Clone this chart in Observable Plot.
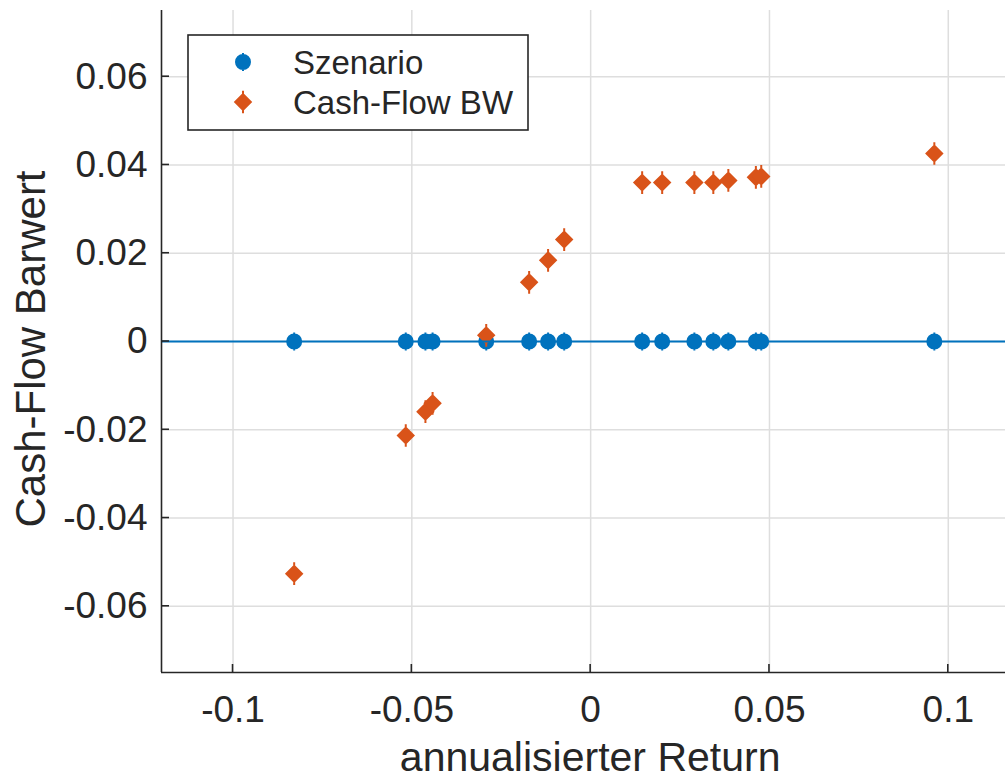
<!DOCTYPE html>
<html>
<head>
<meta charset="utf-8">
<script src="https://cdn.jsdelivr.net/npm/d3@7"></script>
<script src="https://cdn.jsdelivr.net/npm/@observablehq/plot@0.6"></script>
<style>
  html, body { margin: 0; padding: 0; background: white; }
  #chart { position: relative; width: 1005px; height: 781px; overflow: hidden; }
</style>
</head>
<body>
<div id="chart"></div>
<script>
// ---- data ----
const annualisierterReturn = [-0.0829, -0.0517, -0.0462, -0.0442, -0.0292, -0.0172, -0.0119, -0.0074,
  0.0144, 0.0200, 0.0290, 0.0343, 0.0385, 0.0462, 0.0477, 0.0961];
const cashFlowBW = [-0.0526, -0.0213, -0.0159, -0.0140, 0.0014, 0.0134, 0.0184, 0.0231,
  0.0360, 0.0360, 0.0360, 0.0360, 0.0365, 0.0372, 0.0374, 0.0426];
const szenario = [0, 0, 0, 0, 0, 0, 0, 0, 0, 0, 0, 0, 0, 0, 0, 0];
const seriesNames = ["Szenario", "Cash-Flow BW"];
const xTicks = [-0.1, -0.05, 0, 0.05, 0.1];
const xTickLabels = ["-0.1", "-0.05", "0", "0.05", "0.1"];
const yTicks = [-0.06, -0.04, -0.02, 0, 0.02, 0.04, 0.06];
const yTickLabels = ["-0.06", "-0.04", "-0.02", "0", "0.02", "0.04", "0.06"];
const xLabel = "annualisierter Return";
const yLabel = "Cash-Flow Barwert";

const blue = "#0072BD", orange = "#D95319", axisColor = "#262626", gridColor = "#dedede";
const font = "'Liberation Sans', Arial, Helvetica, sans-serif";

const xLab = new Map(xTicks.map((t, i) => [t, xTickLabels[i]]));
const yLab = new Map(yTicks.map((t, i) => [t, yTickLabels[i]]));

const pts = annualisierterReturn.map((x, i) => ({x, cf: cashFlowBW[i], sz: szenario[i]}));

// custom MATLAB-like marker symbols
const circleSym = {draw(ctx, size) {
  const r = Math.sqrt(size / Math.PI);
  ctx.moveTo(r, 0); ctx.arc(0, 0, r, 0, 2 * Math.PI); ctx.closePath();
  const w = 1, h = r * 1.12;
  ctx.moveTo(-w, -h); ctx.lineTo(w, -h); ctx.lineTo(w, h); ctx.lineTo(-w, h); ctx.closePath();
}};
const diamondSym = {draw(ctx, size) {
  const r = Math.sqrt(size / Math.PI);
  const a = r * 1.1;
  ctx.moveTo(0, -a); ctx.lineTo(a, 0); ctx.lineTo(0, a); ctx.lineTo(-a, 0); ctx.closePath();
  const w = 1, h = r * 1.35;
  ctx.moveTo(-w, -h); ctx.lineTo(w, -h); ctx.lineTo(w, h); ctx.lineTo(-w, h); ctx.closePath();
}};

const chart = Plot.plot({
  width: 1005, height: 781,
  marginLeft: 161, marginRight: 0, marginTop: 10, marginBottom: 109,
  style: {fontFamily: font, fontSize: "37px", color: axisColor, background: "white", overflow: "visible"},
  x: {domain: [-0.12, 0.116]},
  y: {domain: [-0.075, 0.075]},
  marks: [
    Plot.gridX(xTicks, {stroke: gridColor, strokeOpacity: 1, strokeWidth: 1.5}),
    Plot.gridY(yTicks, {stroke: gridColor, strokeOpacity: 1, strokeWidth: 1.5}),
    Plot.dot(pts, {x: "x", y: "sz", r: 8, symbol: circleSym, fill: blue, stroke: "none"}),
    Plot.dot(pts, {x: "x", y: "cf", r: 8.4, symbol: diamondSym, fill: orange, stroke: "none"}),
    Plot.ruleY([0], {stroke: blue, strokeWidth: 2}),
    Plot.axisX(xTicks, {tickSize: 0, tickPadding: 23, tickFormat: d => xLab.get(d), label: null, fontSize: 37}),
    Plot.axisY(yTicks, {tickSize: 0, tickPadding: 14, tickFormat: d => yLab.get(d), label: null, fontSize: 37}),
    Plot.ruleX([-0.12], {stroke: axisColor, strokeWidth: 1.6}),
    Plot.ruleY([-0.075], {stroke: axisColor, strokeWidth: 1.6})
  ]
});

document.getElementById("chart").appendChild(chart);

// inward ticks, axis labels and legend using the plot's scales
const sx = chart.scale("x"), sy = chart.scale("y");
const svg = d3.select(chart);
const x0 = sx.apply(-0.12), yb = sy.apply(-0.075);
const tl = 8;
const g = svg.append("g").attr("stroke", axisColor).attr("stroke-width", 1.6);
xTicks.forEach(t => {
  const px = sx.apply(t);
  g.append("line").attr("x1", px).attr("x2", px).attr("y1", yb).attr("y2", yb - tl);
});
yTicks.forEach(t => {
  const py = sy.apply(t);
  g.append("line").attr("x1", x0).attr("x2", x0 + tl).attr("y1", py).attr("y2", py);
});

svg.append("text").text(xLabel)
  .attr("x", sx.apply(0)).attr("y", 771)
  .attr("text-anchor", "middle").attr("font-family", font).attr("font-size", 41).attr("fill", axisColor);
svg.append("text").text(yLabel)
  .attr("transform", `translate(45, ${sy.apply(0) + 8}) rotate(-90)`)
  .attr("text-anchor", "middle").attr("font-family", font).attr("font-size", 42).attr("fill", axisColor);

// legend
const lg = svg.append("g");
lg.append("rect").attr("x", 188).attr("y", 35).attr("width", 340).attr("height", 95)
  .attr("fill", "white").attr("stroke", axisColor).attr("stroke-width", 1.6);
const legendItems = [
  {name: seriesNames[0], sym: circleSym, size: Math.PI * 64, color: blue, y: 62},
  {name: seriesNames[1], sym: diamondSym, size: Math.PI * 8.4 * 8.4, color: orange, y: 102}
];
legendItems.forEach(it => {
  lg.append("path").attr("d", d3.symbol(it.sym, it.size)())
    .attr("transform", `translate(243, ${it.y})`).attr("fill", it.color);
  lg.append("text").text(it.name).attr("x", 293).attr("y", it.y + 12)
    .attr("text-anchor", "start")
    .attr("font-family", font).attr("font-size", 33).attr("fill", axisColor);
});
</script>
</body>
</html>
